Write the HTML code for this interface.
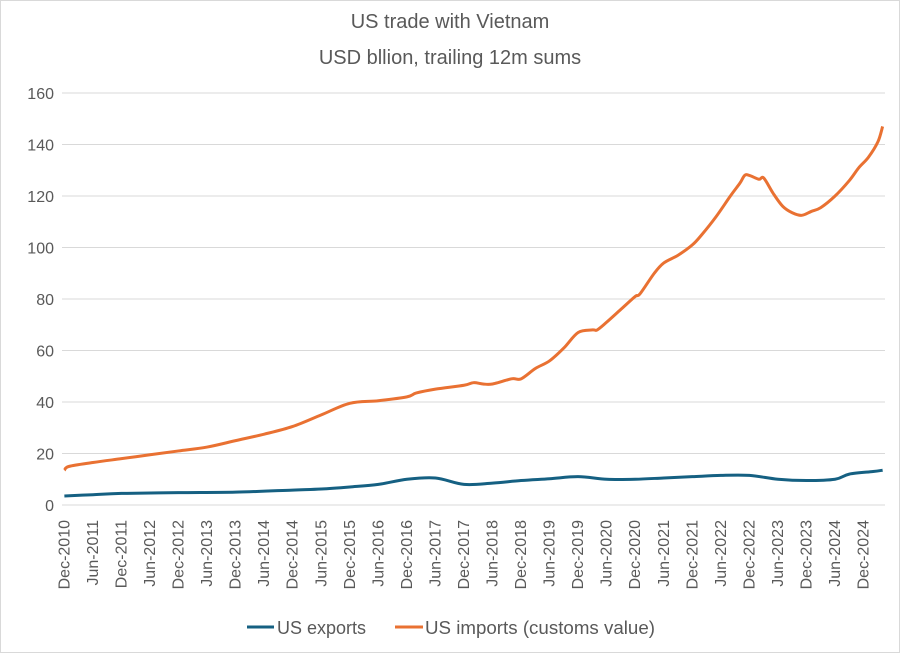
<!DOCTYPE html>
<html><head><meta charset="utf-8"><style>
body{margin:0;background:#fff;}
svg{display:block;font-family:"Liberation Sans",sans-serif;}
</style></head><body>
<svg id="chart" width="900" height="653" viewBox="0 0 900 653">
<rect x="0.5" y="0.5" width="899" height="652" fill="#fff" stroke="#d9d9d9"/>
<text x="450" y="28" text-anchor="middle" font-size="20" fill="#595959">US trade with Vietnam</text>
<text x="450" y="64" text-anchor="middle" font-size="20" fill="#595959">USD bllion, trailing 12m sums</text>
<g id="grid"></g><g id="yt"></g><g id="xt"></g><g id="lines"></g>
<g>
<line x1="247" y1="627" x2="274" y2="627" stroke="#156082" stroke-width="3"/>
<text x="277" y="634" font-size="18" fill="#595959" textLength="89" lengthAdjust="spacingAndGlyphs">US exports</text>
<line x1="395" y1="627" x2="423" y2="627" stroke="#e97132" stroke-width="3"/>
<text x="425" y="634" font-size="18" fill="#595959" textLength="230" lengthAdjust="spacingAndGlyphs">US imports (customs value)</text>
</g>
</svg>
<script>
const yTicks=[0,20,40,60,80,100,120,140,160];
const xLabels=["Dec-2010","Jun-2011","Dec-2011","Jun-2012","Dec-2012","Jun-2013","Dec-2013","Jun-2014","Dec-2014","Jun-2015","Dec-2015","Jun-2016","Dec-2016","Jun-2017","Dec-2017","Jun-2018","Dec-2018","Jun-2019","Dec-2019","Jun-2020","Dec-2020","Jun-2021","Dec-2021","Jun-2022","Dec-2022","Jun-2023","Dec-2023","Jun-2024","Dec-2024"];
const impMonths=[0,1,6,12,18,24,30,36,42,48,54,60,66,72,74,78,84,86,88,90,94,96,99,102,105,108,111,112,114,117,120,121,124,126,129,132,134,137,140,142,143,144,146,147,149,151,153,155,157,159,162,165,167,169,171,172];
const impVals=[13.5,15,16.5,18,19.5,21,22.5,25,27.5,30.5,35,39.5,40.5,42,43.5,45,46.5,47.5,47,47,49,49,53,56,61,67,68,68,71,76,81,82,90,94,97,101,105,112,120,125,128,128,126.5,127,121,116,113.5,112.5,114,115.5,120,126,131,135,141,147];
const expMonths=[0,6,12,24,36,48,54,60,66,72,78,84,90,96,102,108,114,120,126,132,138,144,150,156,162,165,170,172];
const expVals=[3.5,4,4.5,4.8,5,5.8,6.2,7,8,10,10.5,8,8.5,9.5,10.2,11,10,10,10.5,11,11.5,11.5,10,9.5,10,12,13,13.5];
const L=62,R=885,T=93,B=505,N=173;
const xs=i=>L+(i+0.5)*(R-L)/N;
const ys=v=>B-(v/160)*(B-T);
const NS="http://www.w3.org/2000/svg";
function mk(tag,attrs,parent){const e=document.createElementNS(NS,tag);for(const k in attrs)e.setAttribute(k,attrs[k]);parent.appendChild(e);return e;}
const grid=document.getElementById('grid'),yt=document.getElementById('yt'),xt=document.getElementById('xt'),lines=document.getElementById('lines');
yTicks.forEach(v=>{
 const l=mk('line',{x1:L,x2:R,y1:ys(v),y2:ys(v),stroke:'#d9d9d9','stroke-width':1},grid);
 
 
 const t=mk('text',{x:54,y:ys(v)+6,'text-anchor':'end','font-size':16,fill:'#595959'},yt);
 t.textContent=v;
 
 
});
xLabels.forEach((s,k)=>{
 const x=xs(k*6)+5;
 const t=mk('text',{x:x,y:520,'text-anchor':'end','font-size':16,fill:'#595959',transform:`rotate(-90 ${x} 520)`},xt);
 t.textContent=s;
 
 
});
function path(ms,vs){
 const p=ms.map((m,i)=>[xs(m),ys(vs[i])]);
 let d=`M${p[0][0]},${p[0][1]}`;
 for(let i=0;i<p.length-1;i++){
  const p0=p[i-1]||p[i],p1=p[i],p2=p[i+1],p3=p[i+2]||p2;
  const c1x=p1[0]+(p2[0]-p0[0])/6,c1y=p1[1]+(p2[1]-p0[1])/6;
  const c2x=p2[0]-(p3[0]-p1[0])/6,c2y=p2[1]-(p3[1]-p1[1])/6;
  d+=` C${c1x},${c1y} ${c2x},${c2y} ${p2[0]},${p2[1]}`;
 }
 return d;
}
const e=mk('path',{d:path(expMonths,expVals),fill:'none',stroke:'#156082','stroke-width':3,'stroke-linejoin':'round'},lines);


const im=mk('path',{d:path(impMonths,impVals),fill:'none',stroke:'#e97132','stroke-width':3,'stroke-linejoin':'round'},lines);


</script>
</body></html>
